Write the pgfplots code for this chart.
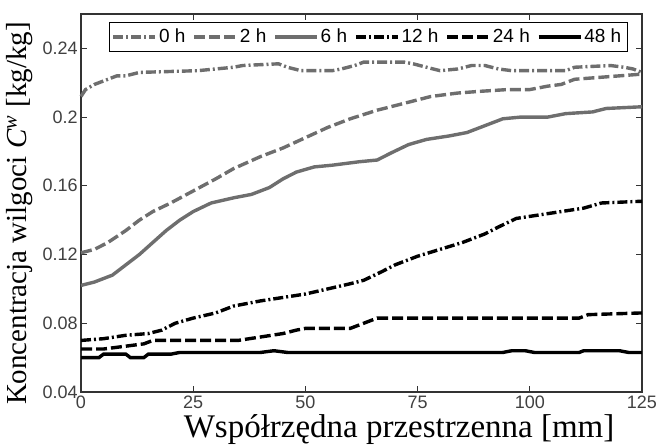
\documentclass[border=0pt]{standalone}
\usepackage{fontspec}
\setmainfont{Liberation Serif}
\setsansfont{Liberation Sans}
\usepackage{pgfplots}
\pgfplotsset{compat=1.18}
\definecolor{lgray}{RGB}{110,110,110}
\begin{document}
\begin{tikzpicture}
\begin{axis}[
  scale only axis,
  width=280.5pt, height=189pt,
  xmin=0, xmax=125, ymin=0.04, ymax=0.26,
  xtick={0,25,50,75,100,125},
  ytick={0.04,0.08,0.12,0.16,0.2,0.24},
  tick align=inside,
  major tick length=3pt,
  axis line style={black!80, line width=0.6pt},
  tick style={black!80, line width=0.5pt},
  /pgf/number format/assume math mode=true,
  /pgf/number format/fixed,
  /pgf/number format/precision=2,
  tick label style={font=\sffamily\fontsize{9}{10}\selectfont, text=black!75},
  xticklabel style={inner sep=1pt, yshift=-1pt},
  yticklabel style={inner sep=1.5pt},
  xlabel={Współrzędna przestrzenna [mm]},
  ylabel={Koncentracja wilgoci \textit{C}\textsuperscript{\textit{w}} [kg/kg]},
  xlabel style={font=\fontsize{16.5}{18}\selectfont, at={(rel axis cs:0.567,-0.121)}, anchor=base},
  ylabel style={font=\fontsize{14.5}{16}\selectfont, at={(rel axis cs:-0.1087,0.472)}, anchor=center},
  legend columns=6,
  legend style={at={(rel axis cs:0.5125,0.979)}, anchor=north, draw=black, line width=0.6pt,
    font=\sffamily\fontsize{9.5}{10}\selectfont, inner sep=1pt,
    /tikz/every even column/.append style={column sep=1.5pt},
    /tikz/every odd column/.append style={column sep=-1pt}},
  legend image code/.code={\draw[#1] (0pt,0pt) -- (21pt,0pt);},
  clip=false,
]
\addplot[lgray, line width=1.7pt, dash pattern=on 5pt off 1.5pt on 1pt off 1.5pt] coordinates {
(0,0.212) (1,0.216) (3,0.219) (6,0.222) (8,0.224) (10,0.224) (13,0.226) (26,0.227) (30,0.228) (34,0.229) (36,0.230) (44,0.231) (46,0.229) (49,0.227) (56,0.227) (58,0.228) (61,0.230) (63,0.232) (72,0.232) (74,0.231) (77,0.229) (80,0.227) (84,0.228) (87,0.230) (90,0.230) (93,0.228) (96,0.227) (108,0.227) (110,0.229) (118,0.230) (121,0.229) (123,0.228) (125,0.226)
};
\addlegendentry{0 h}
\addplot[lgray, line width=1.7pt, dash pattern=on 5.5pt off 2pt] coordinates {
(0,0.121) (3,0.123) (6,0.127) (10,0.134) (13,0.140) (16,0.145) (20,0.150) (25,0.157) (30,0.164) (34,0.170) (40,0.177) (45,0.182) (50,0.188) (55,0.194) (60,0.199) (66,0.204) (72,0.208) (78,0.212) (84,0.214) (89,0.215) (95,0.216) (100,0.216) (104,0.218) (107,0.219) (110,0.222) (115,0.223) (120,0.224) (125,0.225)
};
\addlegendentry{2 h}
\addplot[lgray, line width=1.7pt] coordinates {
(0,0.102) (3,0.104) (7,0.108) (10,0.114) (13,0.120) (16,0.127) (19,0.134) (22,0.140) (25,0.145) (29,0.150) (34,0.153) (38,0.155) (42,0.159) (45,0.164) (48,0.168) (52,0.171) (56,0.172) (62,0.174) (66,0.175) (69,0.179) (73,0.184) (77,0.187) (82,0.189) (86,0.191) (90,0.195) (94,0.199) (98,0.200) (104,0.200) (108,0.202) (114,0.203) (117,0.205) (125,0.206)
};
\addlegendentry{6 h}
\addplot[black, line width=1.7pt, dash pattern=on 5pt off 1.5pt on 1pt off 1.5pt] coordinates {
(0,0.070) (5,0.071) (10,0.073) (15,0.074) (18,0.076) (21,0.080) (25,0.083) (30,0.086) (34,0.090) (40,0.093) (45,0.095) (50,0.097) (55,0.100) (60,0.103) (63,0.105) (67,0.110) (70,0.114) (75,0.119) (80,0.123) (85,0.127) (90,0.132) (93,0.136) (97,0.141) (102,0.143) (107,0.145) (112,0.147) (116,0.150) (125,0.151)
};
\addlegendentry{12 h}
\addplot[black, line width=1.7pt, dash pattern=on 5.5pt off 2pt] coordinates {
(0,0.065) (5,0.065) (8,0.066) (11,0.067) (14,0.068) (16,0.070) (35,0.070) (40,0.072) (45,0.074) (48,0.076) (50,0.077) (60,0.077) (62,0.079) (66,0.083) (111,0.083) (113,0.085) (125,0.086)
};
\addlegendentry{24 h}
\addplot[black, line width=1.7pt] coordinates {
(0,0.060) (4,0.060) (5,0.062) (10,0.062) (11,0.060) (14,0.060) (15,0.062) (20,0.062) (22,0.063) (40,0.063) (43,0.064) (46,0.063) (94,0.063) (96,0.064) (99,0.064) (101,0.063) (111,0.063) (112,0.064) (120,0.064) (122,0.063) (125,0.063)
};
\addlegendentry{48 h}
\coordinate (BL) at (rel axis cs:-0.1444,-0.1402);
\coordinate (TR) at (rel axis cs:1.025,1.037);
\end{axis}
\pgfresetboundingbox
\useasboundingbox (BL) rectangle (TR);
\end{tikzpicture}
\end{document}
